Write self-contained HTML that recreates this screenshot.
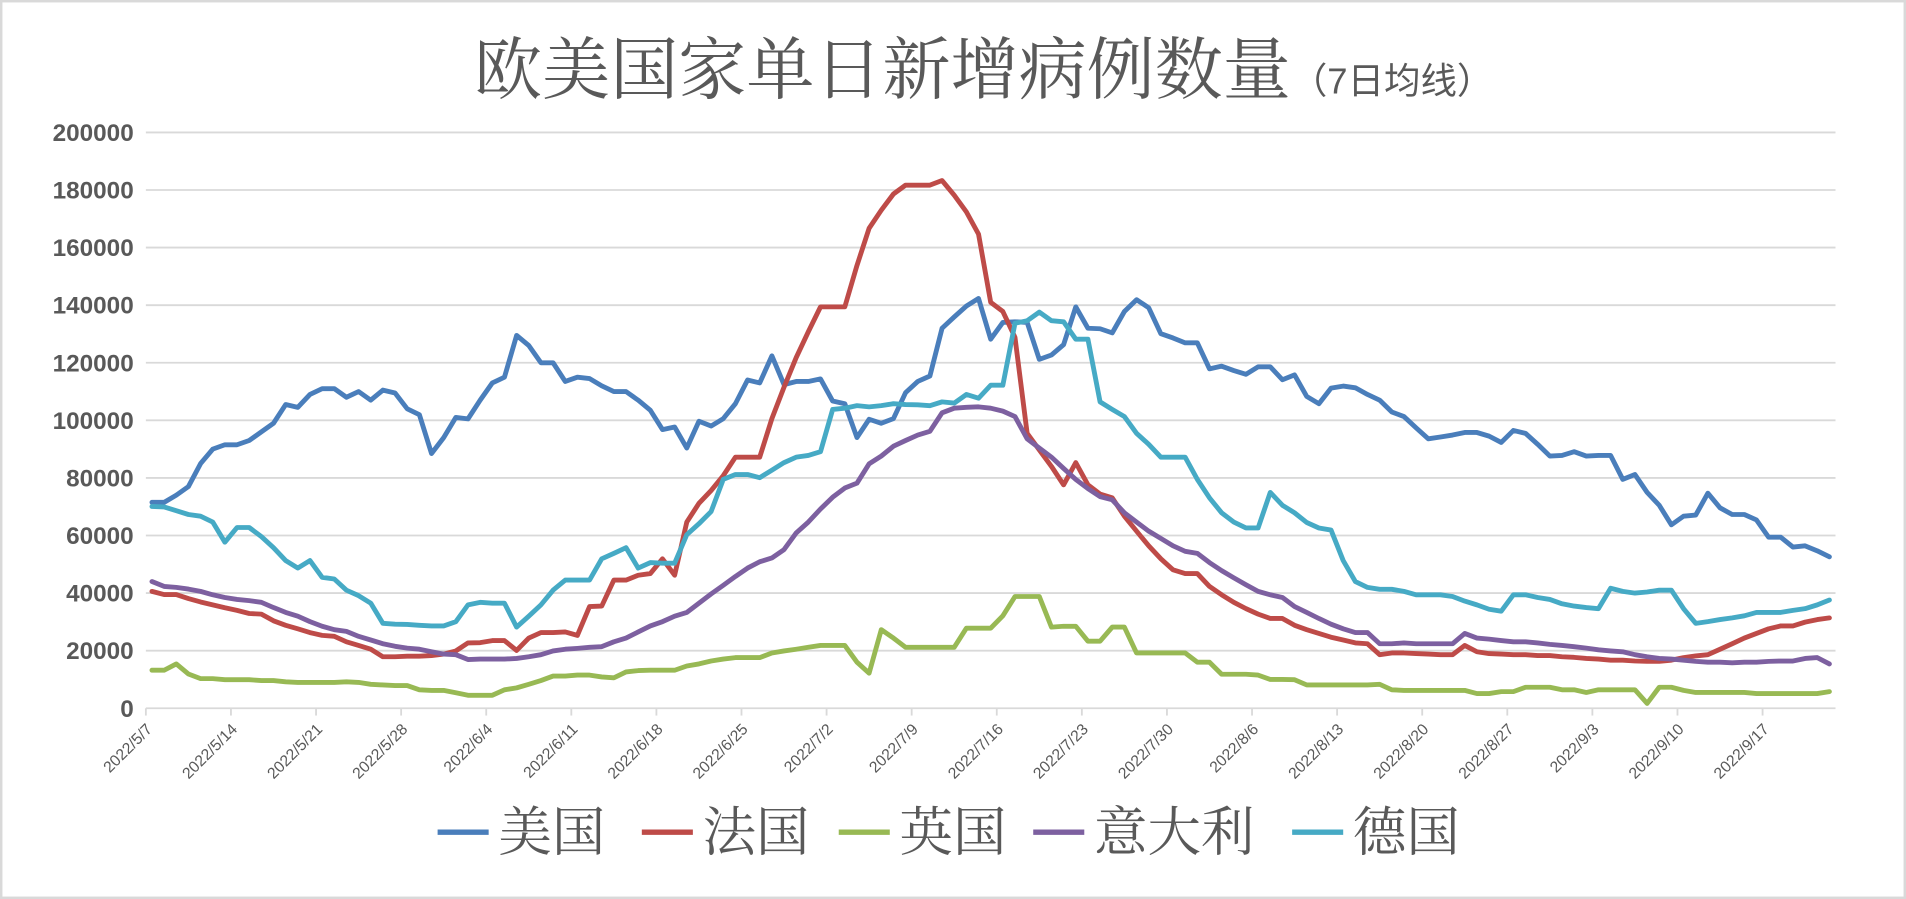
<!DOCTYPE html>
<html><head><meta charset="utf-8">
<style>
html,body{margin:0;padding:0;background:#fff;}
svg{display:block;}
</style></head>
<body>
<svg id="chart" width="1906" height="899" viewBox="0 0 1568 740" preserveAspectRatio="none" xmlns="http://www.w3.org/2000/svg">
<rect x="1" y="1" width="1566" height="738" fill="#fff" stroke="#d9d9d9" stroke-width="2"/>
<text x="390" y="77" text-anchor="start" font-family="'Liberation Serif','Noto Serif CJK SC',serif" font-size="56" fill="#595959">欧美国家单日新增病例数量<tspan font-size="30" font-family="'Liberation Sans','Noto Sans CJK SC',sans-serif">（7日均线）</tspan></text>
<g id="grid"></g>
<g id="yaxis"></g>
<g id="xaxis"></g>
<g id="series"></g>
<g id="legend"></g>
</svg>
<script>
const yTicks = [0,20000,40000,60000,80000,100000,120000,140000,160000,180000,200000];
const xTickLabels = ["2022/5/7","2022/5/14","2022/5/21","2022/5/28","2022/6/4","2022/6/11","2022/6/18","2022/6/25","2022/7/2","2022/7/9","2022/7/16","2022/7/23","2022/7/30","2022/8/6","2022/8/13","2022/8/20","2022/8/27","2022/9/3","2022/9/10","2022/9/17"];
const seriesNames = ["美国","法国","英国","意大利","德国"];
const usK = [71.5,71.5,74,77,85,90,91.5,91.5,93,96,99,105.5,104.5,109,111,111,108,110,107,110.5,109.5,104,102,88.5,94,101,100.5,107,113,115,129.5,126,120,120,
113.5,115,114.5,112,110,110,107,103.5,96.8,97.7,90.4,99.7,98,100.6,105.8,114,113,122.4,112.4,113.5,113.5,114.4,106.7,105.8,94,100.4,99,100.6,109.6,113.5,115.4,132,135.9,139.7,
142.3,128.2,134,134.2,134,121.2,122.7,126.3,139.4,132,131.8,130.4,137.8,141.9,139.1,130.1,128.6,126.9,126.9,117.9,118.8,117.3,116,118.6,118.6,114.1,115.8,108.3,105.8,111.2,111.9,111.3,109,
107,102.9,101.3,97.4,93.6,94.2,94.9,95.8,95.8,94.5,92.3,96.5,95.5,91.7,87.6,87.8,89.1,87.6,87.8,87.8,79.5,81.2,75,70.5,63.7,66.7,67.1,74.7,69.6,67.3,67.3,65.4,59.4,59.4,56,56.4,54.7,52.6];
const frK = [40.6,39.5,39.5,38.1,36.9,35.9,34.9,34,32.9,32.7,30.4,28.8,27.6,26.3,25.3,25,23.1,21.8,20.5,17.9,17.9,18.1,18.1,18.3,18.8,19.9,22.7,22.8,23.5,23.5,20.1,24.4,26.3,26.3,
26.5,25.3,35.3,35.5,44.5,44.5,46.2,46.8,51.9,46.2,64.7,71.2,75.6,80.8,87.2,87.2,87.2,100.6,111.5,121.8,130.8,139.4,139.4,139.4,153.8,166.7,173,178.6,181.7,181.7,181.7,183.3,178.2,172.4,
164.7,141,137.8,128.8,95.5,89.7,84,77.6,85.3,77.6,74.4,73.1,66.7,61.5,56.4,51.9,48.1,46.8,46.8,42.3,39.4,36.8,34.6,32.7,31.2,31.2,28.8,27.3,26,24.7,23.7,22.7,22.4,
18.6,19.2,19.2,19,18.8,18.6,18.6,21.8,19.6,19,18.8,18.6,18.6,18.3,18.3,17.9,17.7,17.3,17.1,16.7,16.7,16.4,16.3,16.3,16.7,17.6,18.2,18.6,20.5,22.4,24.4,26,27.6,28.6,28.6,29.9,30.8,31.4];
const ukK = [13.2,13.2,15.4,11.9,10.3,10.3,9.9,9.9,9.9,9.6,9.6,9.2,9,9,9,9,9.2,9,8.3,8.1,7.9,7.9,6.4,6.2,6.2,5.4,4.5,4.5,4.5,6.4,7.1,8.3,9.6,11.2,
11.2,11.5,11.5,10.9,10.6,12.6,13.1,13.2,13.2,13.2,14.7,15.4,16.4,17.1,17.6,17.6,17.6,19.2,19.9,20.5,21.2,21.8,21.8,21.8,16,12.2,27.3,24.4,21.2,21.2,21.2,21.2,21.2,27.8,
27.8,27.8,32.1,38.8,38.8,38.8,28.2,28.5,28.5,23.3,23.3,28.2,28.2,19.2,19.2,19.2,19.2,19.2,16,16,11.8,11.8,11.8,11.5,10,10,9.9,8.1,8.1,8.1,8.1,8.1,8.1,
8.3,6.4,6.2,6.2,6.2,6.2,6.2,6.2,5.1,5.1,5.8,5.8,7.3,7.3,7.3,6.4,6.4,5.5,6.4,6.4,6.4,6.4,1.7,7.3,7.3,6.2,5.5,5.5,5.5,5.5,5.5,5.1,5.1,5.1,5.1,5.1,5.1,5.8];
const itK = [44,42.3,42,41.4,40.6,39.4,38.5,37.8,37.4,36.8,35,33.3,32,30.1,28.5,27.3,26.7,25,23.7,22.4,21.5,20.9,20.5,19.6,18.8,18.6,16.9,17.1,17.1,17.1,17.3,17.9,18.6,19.9,
20.5,20.8,21.2,21.4,23.1,24.4,26.5,28.6,30.1,32,33.3,36.5,39.7,42.7,45.8,48.7,50.9,52.2,55.1,60.9,64.7,69.2,73.3,76.5,78.2,84.9,87.6,91,93,94.9,96.2,102.6,104.2,104.5,
104.7,104.2,103.2,101.3,93.6,90.4,87.2,83.3,79.5,76.3,73.5,72.4,67.9,64.7,61.5,59,56.4,54.5,53.8,50.6,47.8,45.3,42.9,40.6,39.4,38.5,35.3,33.3,31.2,29.2,27.6,26.3,26.3,
22.4,22.4,22.7,22.4,22.4,22.4,22.4,26,24.4,24,23.5,23.1,23.1,22.7,22.2,21.8,21.4,20.9,20.3,19.9,19.6,18.6,17.9,17.3,17.1,16.7,16.3,16,16,15.8,16,16,16.3,16.4,16.4,17.3,17.6,15.4];
const deK = [70.1,69.9,68.6,67.3,66.7,64.7,57.7,62.8,62.8,59.6,55.8,51.3,48.7,51.3,45.5,44.9,41,39.1,36.5,29.5,29.2,29.1,28.8,28.6,28.6,30.1,35.9,36.8,36.5,36.5,28.2,32,35.9,41,
44.5,44.5,44.5,51.9,53.8,55.8,48.7,50.6,50.4,50.4,60.3,64.1,68.3,79.5,81.2,81.2,80.1,82.7,85.3,87.2,87.8,89.1,103.8,104.2,105.1,104.7,105.1,105.8,105.5,105.4,105.1,106.4,106,109,
107.7,112.2,112.2,133.7,134.6,137.6,134.6,134.2,128.2,128.2,106.4,103.8,101.3,95.5,91.7,87.2,87.2,87.2,79.5,73.1,67.9,64.7,62.6,62.6,75,70.5,67.9,64.5,62.6,61.9,51.3,44,42,
41.3,41.3,40.6,39.4,39.4,39.4,38.8,37.2,35.9,34.4,33.7,39.4,39.4,38.5,37.8,36.3,35.5,35,34.6,41.7,40.6,40,40.4,41,41,34.6,29.5,30.1,30.8,31.4,32.1,33.3,33.3,33.3,34,34.6,35.9,37.6];
const seriesColors = ["#4a7ebb","#be4b48","#98b954","#7d60a0","#46aac5"];

const NS = "http://www.w3.org/2000/svg";
const X0 = 120, X1 = 1510, Y0 = 583, Y1 = 109, YMAX = 200000;
const nCat = usK.length;
const catW = (X1 - X0) / nCat;
function xScale(i){ return X0 + (i + 0.5) * catW; }
function yScale(v){ return Y0 - (v / YMAX) * (Y0 - Y1); }
function mk(tag, attrs, parent){ const e = document.createElementNS(NS, tag); for (const k in attrs) e.setAttribute(k, attrs[k]); parent.appendChild(e); return e; }

const grid = document.getElementById('grid');
const yaxis = document.getElementById('yaxis');
yTicks.forEach(function(t){
  const y = yScale(t);
  const l = mk('line', {x1: X0, x2: X1, y1: y, y2: y, stroke: '#d9d9d9', 'stroke-width': 1.5}, grid);
  
  
  const tx = mk('text', {x: 110, y: y + 7, 'text-anchor': 'end', 'font-family': "'Liberation Sans',sans-serif", 'font-size': 20, 'font-weight': 'bold', fill: '#595959'}, yaxis);
  tx.textContent = String(t);
  
  
});

const xaxis = document.getElementById('xaxis');
xTickLabels.forEach(function(lab, k){
  const x = X0 + k * 7 * catW;
  const tk = mk('line', {x1: x, x2: x, y1: Y0, y2: Y0 + 6, stroke: '#d9d9d9', 'stroke-width': 1.5}, xaxis);
  
  
  const tx = mk('text', {x: x + 6, y: Y0 + 18, 'text-anchor': 'end', 'font-family': "'Liberation Sans',sans-serif", 'font-size': 13, fill: '#595959', transform: 'rotate(-45 ' + (x + 6) + ' ' + (Y0 + 18) + ')'}, xaxis);
  tx.textContent = lab;
  
  
});

const seriesG = document.getElementById('series');
const allSeries = [usK, frK, ukK, itK, deK];
allSeries.forEach(function(arr, s){
  const pts = arr.map(function(v, i){ return xScale(i).toFixed(1) + ',' + yScale(v * 1000).toFixed(1); }).join(' ');
  const p = mk('polyline', {points: pts, fill: 'none', stroke: seriesColors[s], 'stroke-width': 4, 'stroke-linejoin': 'round', 'stroke-linecap': 'round'}, seriesG);
  
  
});

const legend = document.getElementById('legend');
const legendX = [360, 528, 690, 850, 1063];
seriesNames.forEach(function(name, s){
  const g = mk('g', {}, legend);
  
  
  mk('line', {x1: legendX[s], x2: legendX[s] + 42, y1: 685, y2: 685, stroke: seriesColors[s], 'stroke-width': 4.5}, g);
  const t = mk('text', {x: legendX[s] + 50, y: 700, 'font-family': "'Liberation Serif','Noto Serif CJK SC',serif", 'font-size': 44, fill: '#595959'}, g);
  t.textContent = name;
});
</script>
</body></html>
